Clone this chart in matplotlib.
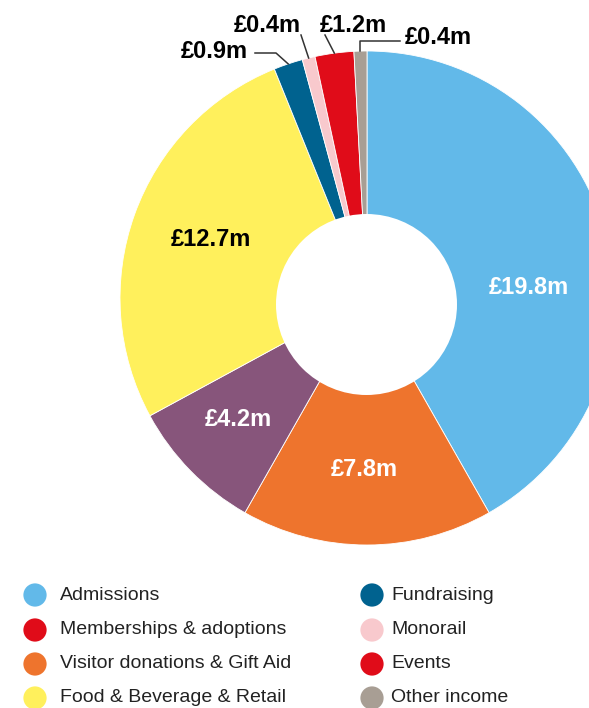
import numpy as np
import matplotlib
matplotlib.use("Agg")
import matplotlib.pyplot as plt
from matplotlib.patches import Circle

plt.rcParams["font.family"] = ["Liberation Sans", "DejaVu Sans"]

W, H = 589, 708

# income split, clockwise from 12 o'clock (GBP millions)
slice_values = [19.8, 7.8, 4.2, 12.7, 0.9, 0.4, 1.2, 0.4]
slice_colors = ["#62b9e9", "#ee742d", "#87557b", "#fff05c",
                "#00628f", "#f8c9cd", "#e00c19", "#a89e94"]
slice_text = [f"£{v:.1f}m" for v in slice_values]

legend_labels = ["Admissions", "Memberships & adoptions",
                 "Visitor donations & Gift Aid", "Food & Beverage & Retail",
                 "Fundraising", "Monorail", "Events", "Other income"]
legend_colors = ["#62b9e9", "#e00c19", "#ee742d", "#fff05c",
                 "#00628f", "#f8c9cd", "#e00c19", "#a89e94"]


def py(y):
    # image-style y (down from top) -> axes y
    return H - y


fig = plt.figure(figsize=(W / 100, H / 100), dpi=100)
ax = fig.add_axes([0, 0, 1, 1])

cx, cy, r_out = 367, 298, 247
wedges, _ = ax.pie(slice_values, colors=slice_colors, startangle=90,
                   counterclock=False, radius=r_out, center=(cx, py(cy)),
                   wedgeprops=dict(linewidth=0.6, edgecolor="white"))
ax.add_patch(Circle((366.5, py(304.5)), 90.5, facecolor="white", edgecolor="none", zorder=3))

# labels inside the big slices: (index, x, y, colour)
inner = [(0, 529, 288, "white"), (1, 364, 470, "white"),
         (2, 238, 420, "white"), (3, 211, 239, "black")]
for i, x, y, c in inner:
    ax.text(x, py(y), slice_text[i], ha="center", va="center",
            fontsize=17, fontweight="bold", color=c, zorder=4)


def anchor(w):
    a = np.deg2rad((w.theta1 + w.theta2) / 2)
    return cx + r_out * np.cos(a), py(cy) + r_out * np.sin(a)


# small slices: leader line from the rim, then the label
lc = "#333333"
ax_, ay_ = anchor(wedges[4])
ax.plot([ax_, 276, 255], [ay_, py(53), py(53)], color=lc, lw=1.1, zorder=4)
ax.text(214, py(52), slice_text[4], ha="center", va="center", fontsize=17, fontweight="bold")

ax_, ay_ = anchor(wedges[5])
ax.plot([ax_, 301], [ay_, py(35)], color=lc, lw=1.1, zorder=4)
ax.text(267, py(26), slice_text[5], ha="center", va="center", fontsize=17, fontweight="bold")

ax_, ay_ = anchor(wedges[6])
ax.plot([ax_, 325], [ay_, py(35)], color=lc, lw=1.1, zorder=4)
ax.text(353, py(26), slice_text[6], ha="center", va="center", fontsize=17, fontweight="bold")

ax_, ay_ = anchor(wedges[7])
ax.plot([ax_, ax_, 400], [ay_, py(41), py(41)], color=lc, lw=1.1, zorder=4)
ax.text(438, py(37), slice_text[7], ha="center", va="center", fontsize=17, fontweight="bold")

# two-column legend
rows_y = [595, 630, 664, 698]
for k, (lab, col) in enumerate(zip(legend_labels, legend_colors)):
    mx, tx = (35, 60) if k < 4 else (372, 391)
    y = py(rows_y[k % 4])
    ax.scatter([mx], [y], s=280, color=col, edgecolors="none", zorder=4)
    ax.text(tx, y, lab, ha="left", va="center", fontsize=14, color="#222222")

ax.set_xlim(0, W)
ax.set_ylim(0, H)
ax.set_aspect("equal")
ax.axis("off")

fig.savefig("out.png", dpi=100)
